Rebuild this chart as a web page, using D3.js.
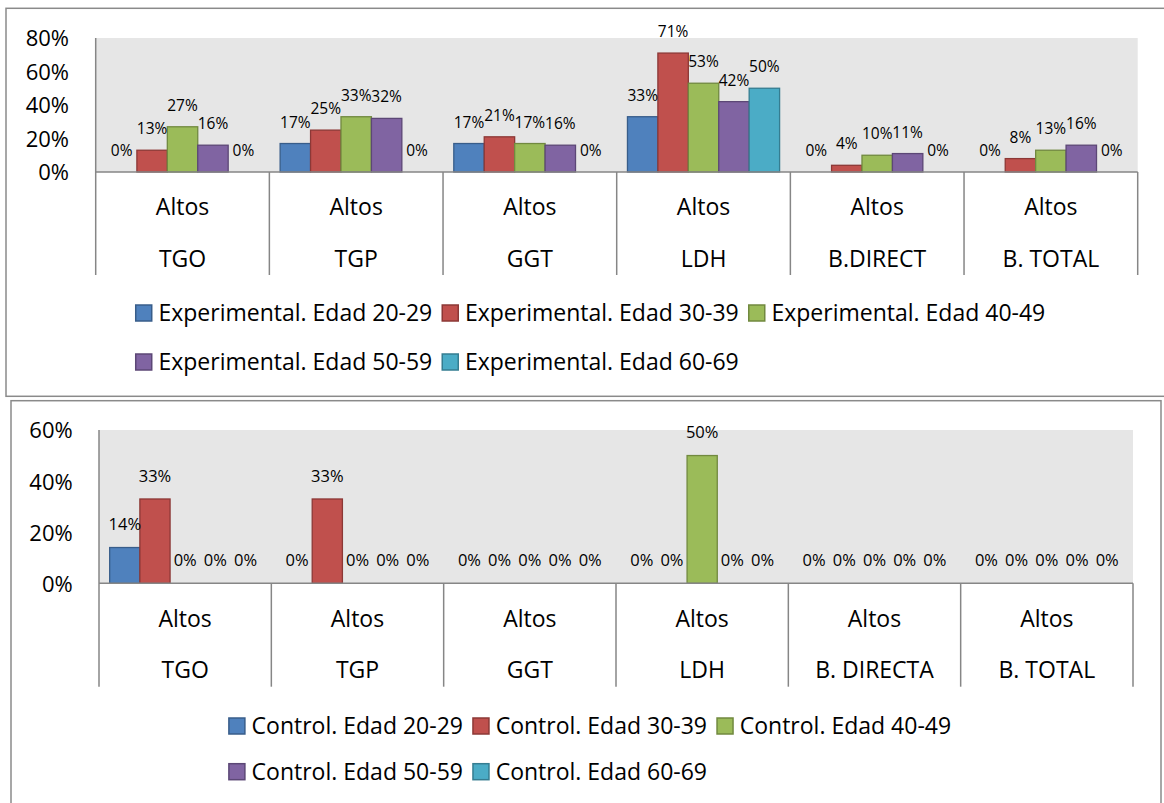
<!DOCTYPE html>
<html>
<head>
<meta charset="utf-8">
<script src="https://cdn.jsdelivr.net/npm/d3@7/dist/d3.min.js"></script>
<style>
  html, body { margin: 0; padding: 0; background: #fff; }
  svg { display: block; font-family: "Open Sans", "Liberation Sans", sans-serif; }
</style>
</head>
<body>
<svg id="chart" width="1164" height="803"></svg>
<script>
// ---- Data -------------------------------------------------------------
const levelLabel = "Altos";

const expCategories = ["TGO", "TGP", "GGT", "LDH", "B.DIRECT", "B. TOTAL"];
const ctlCategories = ["TGO", "TGP", "GGT", "LDH", "B. DIRECTA", "B. TOTAL"];

const expSeriesNames = [
  "Experimental. Edad 20-29", "Experimental. Edad 30-39", "Experimental. Edad 40-49",
  "Experimental. Edad 50-59", "Experimental. Edad 60-69"
];
const ctlSeriesNames = [
  "Control. Edad 20-29", "Control. Edad 30-39", "Control. Edad 40-49",
  "Control. Edad 50-59", "Control. Edad 60-69"
];

// percentages per series, in category order
const exp2029 = [0, 17, 17, 33, 0, 0];
const exp3039 = [13, 25, 21, 71, 4, 8];
const exp4049 = [27, 33, 17, 53, 10, 13];
const exp5059 = [16, 32, 16, 42, 11, 16];
const exp6069 = [0, 0, 0, 50, 0, 0];

const ctl2029 = [14, 0, 0, 0, 0, 0];
const ctl3039 = [33, 33, 0, 0, 0, 0];
const ctl4049 = [0, 0, 0, 50, 0, 0];
const ctl5059 = [0, 0, 0, 0, 0, 0];
const ctl6069 = [0, 0, 0, 0, 0, 0];

const expTicks = [0, 20, 40, 60, 80];
const ctlTicks = [0, 20, 40, 60];

const seriesFill   = ["#4F81BD", "#C0504D", "#9BBB59", "#8064A2", "#4BACC6"];
const seriesStroke = ["#385D8A", "#8C3836", "#71893F", "#5C4776", "#357D91"];

// ---- Drawing ----------------------------------------------------------
const svg = d3.select("#chart");
const axisColor = "#868686";

function drawPanel(cfg) {
  const g = svg.append("g");

  // chart frame
  g.append("rect")
    .attr("x", cfg.frame[0]).attr("y", cfg.frame[1])
    .attr("width", cfg.frame[2]).attr("height", cfg.frame[3])
    .attr("fill", "#fff").attr("stroke", "#8a8a8a").attr("stroke-width", 1.5);

  const x = d3.scaleBand()
    .domain(cfg.categories)
    .range([cfg.left, cfg.right])
    .padding(0);

  const inner = d3.scaleBand()
    .domain(d3.range(cfg.series.length))
    .range([x.bandwidth() * 0.062, x.bandwidth() * 0.938])
    .padding(0);

  const y = d3.scaleLinear()
    .domain([0, d3.max(cfg.ticks)])
    .range([cfg.baseline, cfg.top]);

  // plot area
  g.append("rect")
    .attr("x", cfg.left).attr("y", cfg.top)
    .attr("width", cfg.right - cfg.left).attr("height", cfg.baseline - cfg.top)
    .attr("fill", "#e6e6e6");

  // value axis labels
  const yAxis = d3.axisLeft(y)
    .tickValues(cfg.ticks)
    .tickSize(0)
    .tickPadding(0)
    .tickFormat(d => d + "%");
  const ya = g.append("g")
    .attr("transform", `translate(${cfg.tickX},0)`)
    .call(yAxis);
  ya.select(".domain").remove();
  ya.selectAll("text")
    .attr("font-size", 22)
    .attr("font-family", "Open Sans")
    .attr("fill", "#000")
    .attr("dy", "0.36em");

  // bars
  cfg.series.forEach((vals, s) => {
    g.append("g").selectAll("rect")
      .data(vals.map((v, i) => ({ v, c: cfg.categories[i] })))
      .join("rect")
      .filter(d => d.v > 0)
      .attr("x", d => x(d.c) + inner(s))
      .attr("width", inner.bandwidth())
      .attr("y", d => y(d.v))
      .attr("height", d => y(0) - y(d.v))
      .attr("fill", seriesFill[s])
      .attr("stroke", seriesStroke[s])
      .attr("stroke-width", 1.3);
  });

  // data labels
  cfg.series.forEach((vals, s) => {
    g.append("g").selectAll("text")
      .data(vals.map((v, i) => ({ v, c: cfg.categories[i] })))
      .join("text")
      .attr("x", d => x(d.c) + inner(s) + inner.bandwidth() / 2)
      .attr("y", d => y(d.v) - cfg.labelOffset)
      .attr("dy", "0.36em")
      .attr("text-anchor", "middle")
      .attr("font-size", cfg.labelSize)
      .attr("fill", "#000")
      .text(d => d.v + "%");
  });

  // axis lines
  g.append("line")
    .attr("x1", cfg.left).attr("x2", cfg.right)
    .attr("y1", cfg.baseline).attr("y2", cfg.baseline)
    .attr("stroke", axisColor).attr("stroke-width", 1.5);
  g.append("line")
    .attr("x1", cfg.left).attr("x2", cfg.left)
    .attr("y1", cfg.top).attr("y2", cfg.catBottom)
    .attr("stroke", axisColor).attr("stroke-width", 1.5);

  // category separators
  const bounds = cfg.categories.map(c => x(c)).concat([x(cfg.categories[cfg.categories.length - 1]) + x.bandwidth()]);
  g.append("g").selectAll("line")
    .data(bounds.slice(1))
    .join("line")
    .attr("x1", d => d).attr("x2", d => d)
    .attr("y1", cfg.baseline).attr("y2", cfg.catBottom)
    .attr("stroke", axisColor).attr("stroke-width", 1.5);

  // two-level category labels
  const cats = g.append("g").attr("font-size", 23).attr("fill", "#000").attr("text-anchor", "middle");
  cats.selectAll("text.lvl")
    .data(cfg.categories)
    .join("text")
    .attr("class", "lvl")
    .attr("x", d => x(d) + x.bandwidth() / 2)
    .attr("y", cfg.levelY)
    .attr("dy", "0.36em")
    .text(levelLabel);
  cats.selectAll("text.cat")
    .data(cfg.categories)
    .join("text")
    .attr("class", "cat")
    .attr("x", d => x(d) + x.bandwidth() / 2)
    .attr("y", cfg.catY)
    .attr("dy", "0.36em")
    .text(d => d);

  // legend: 3 columns, 2 rows, centred
  const perRow = 3, sw = 16, swGap = 6.7, itemGap = 10;
  const lg = g.append("g").attr("font-size", 23).attr("fill", "#000");
  const measure = lg.append("text").attr("visibility", "hidden");
  const widths = cfg.names.map(n => { measure.text(n); return measure.node().getComputedTextLength(); });
  measure.remove();
  const colW = d3.range(perRow).map(c =>
    d3.max(cfg.names.filter((_, i) => i % perRow === c).map(n => widths[cfg.names.indexOf(n)])));
  const total = d3.sum(colW) + perRow * (sw + swGap) + (perRow - 1) * itemGap;
  let cx = cfg.legendCenter - total / 2;
  const colX = colW.map(w => { const v = cx; cx += sw + swGap + w + itemGap; return v; });
  cfg.names.forEach((n, i) => {
    const col = i % perRow, row = Math.floor(i / perRow);
    const lx = colX[col], ly = cfg.legendRows[row];
    lg.append("rect")
      .attr("x", lx).attr("y", ly - sw / 2)
      .attr("width", sw).attr("height", sw)
      .attr("fill", seriesFill[i]).attr("stroke", seriesStroke[i]).attr("stroke-width", 1.5);
    lg.append("text")
      .attr("x", lx + sw + swGap).attr("y", ly)
      .attr("dy", "0.36em")
      .text(n);
  });
}

drawPanel({
  frame: [6, 8.3, 1180, 388],
  categories: expCategories,
  series: [exp2029, exp3039, exp4049, exp5059, exp6069],
  names: expSeriesNames,
  ticks: expTicks,
  left: 95.7, right: 1137.7, top: 38, baseline: 172, catBottom: 275,
  tickX: 69, levelY: 206.7, catY: 258.3,
  labelSize: 15.5, labelOffset: 21.5,
  legendRows: [313, 362], legendCenter: 590.5
});

drawPanel({
  frame: [11, 400.7, 1150, 420],
  categories: ctlCategories,
  series: [ctl2029, ctl3039, ctl4049, ctl5059, ctl6069],
  names: ctlSeriesNames,
  ticks: ctlTicks,
  left: 99, right: 1133, top: 430, baseline: 583.3, catBottom: 686.7,
  tickX: 72.7, levelY: 618.3, catY: 669.3,
  labelSize: 16.5, labelOffset: 23,
  legendRows: [726, 771.7], legendCenter: 590
});
</script>
</body>
</html>
